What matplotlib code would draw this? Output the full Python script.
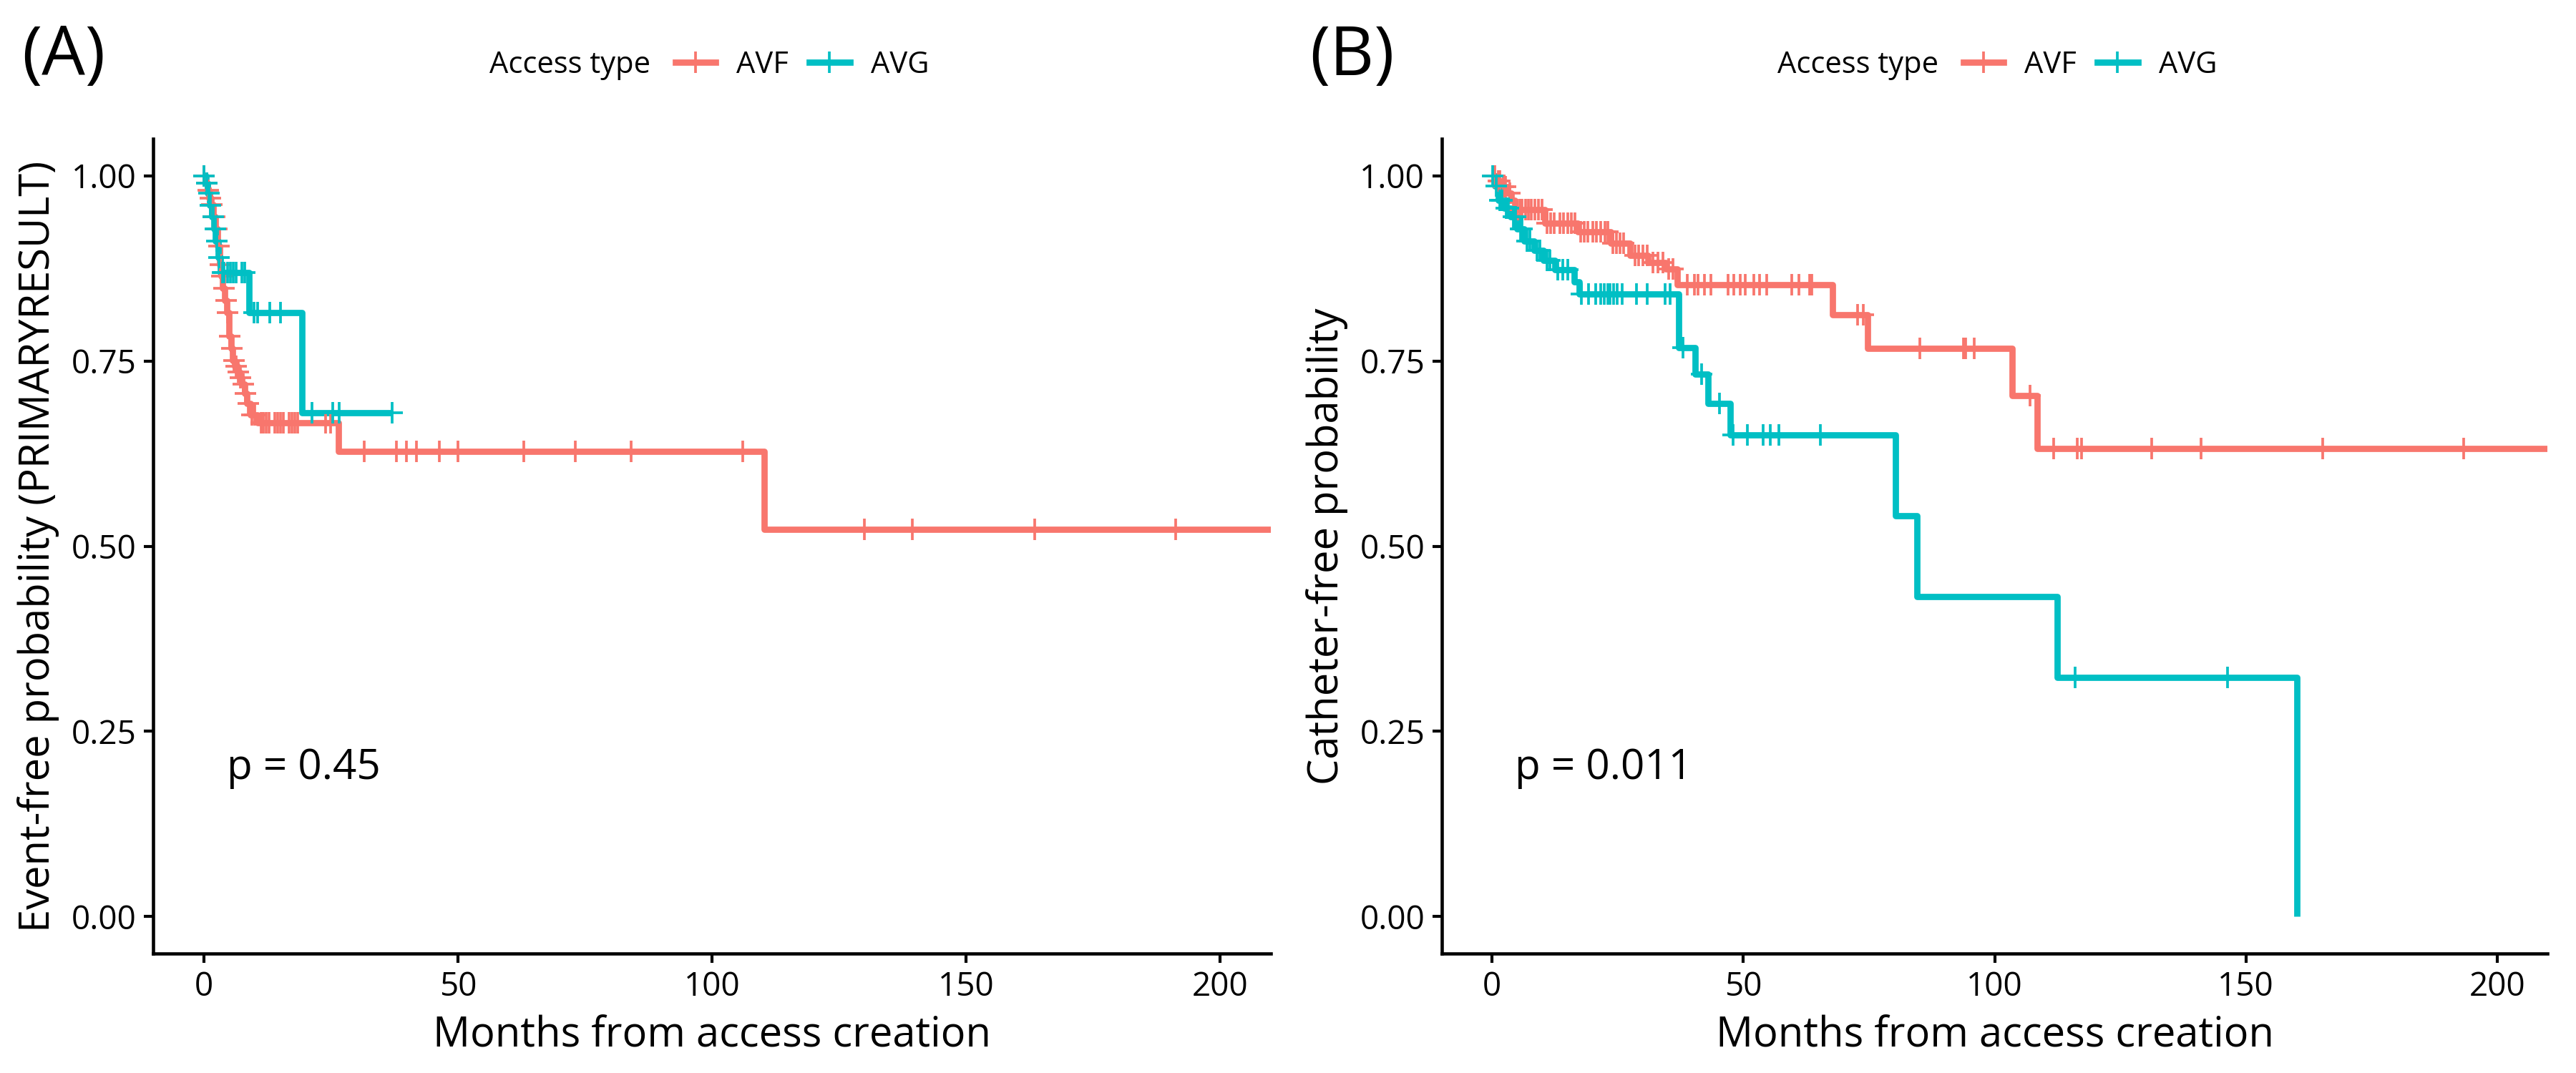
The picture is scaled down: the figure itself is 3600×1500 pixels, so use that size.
import numpy as np
import matplotlib
matplotlib.use("Agg")
import matplotlib.pyplot as plt
from matplotlib.lines import Line2D

plt.rcParams['font.family'] = ['Open Sans', 'DejaVu Sans']

RED = '#F8766D'
TEAL = '#00BFC4'

# ---------------- Panel A data (event-free) ----------------
a_avf_times = [0, 0.3, 0.7, 1.0, 1.4, 1.8, 2.3, 2.7, 3.05, 3.4, 3.7, 4.1, 4.5, 4.9, 5.3, 5.6,
               6.1, 6.6, 7.0, 7.5, 8.0, 8.45, 9.2, 10.6, 26.5, 110.3]
a_avf_surv = [1.0, 0.99, 0.98, 0.97, 0.961, 0.945, 0.928, 0.905, 0.880, 0.865, 0.848, 0.832,
              0.815, 0.783, 0.767, 0.751, 0.743, 0.735, 0.727, 0.719, 0.706, 0.693, 0.677,
              0.667, 0.628, 0.523]
a_avf_end = 215
a_avf_cens = [0.05, 0.5, 0.8, 1.2, 1.5, 1.9, 2.1, 2.5, 2.9, 3.2, 3.5, 3.9, 4.3, 4.7, 5.1, 5.5,
              5.9, 6.3, 6.8, 7.2, 7.7, 8.2, 8.8, 9.5, 10.0, 11.2, 11.7, 12.3, 12.8, 13.9,
              14.5, 15.0, 15.6, 16.7, 17.3, 17.9, 18.5, 24.0, 24.9, 31.5, 37.9, 39.8, 41.9,
              46.4, 50.0, 62.9, 73.1, 84.1, 106.0, 130.0, 139.5, 163.5, 191.3]

a_avg_times = [0, 0.4, 0.7, 1.1, 1.6, 2.0, 2.3, 2.8, 3.3, 8.9, 19.3]
a_avg_surv = [1.0, 0.99, 0.977, 0.96, 0.945, 0.928, 0.912, 0.890, 0.869, 0.815, 0.680]
a_avg_end = 37.0
a_avg_cens = [0.05, 0.5, 1.0, 1.3, 1.8, 2.2, 2.6, 3.0, 3.6, 4.0, 4.6, 5.2, 5.8, 6.3, 7.5, 8.0,
              9.9, 10.6, 13.0, 15.1, 21.2, 25.3, 26.6, 37.0]

# ---------------- Panel B data (catheter-free) ----------------
b_avf_times = [0, 1.0, 2.0, 3.1, 3.8, 4.5, 10.5, 17.0, 23.6, 27.5, 31.0, 34.5, 36.8, 67.8,
               74.7, 103.5, 108.5]
b_avf_surv = [1.0, 0.993, 0.985, 0.977, 0.967, 0.954, 0.936, 0.924, 0.909, 0.893, 0.883,
              0.874, 0.853, 0.812, 0.767, 0.703, 0.632]
b_avf_end = 215
b_avf_cens = [0.3, 0.6, 1.2, 1.6, 2.3, 2.7, 3.5, 5.0, 5.5, 6.0, 6.6, 7.2, 7.8, 8.5, 9.2, 9.9,
              11.0, 11.6, 12.3, 13.5, 14.2, 15.0, 15.8, 16.5, 17.6, 18.3, 19.0, 20.0, 20.8,
              21.6, 22.5, 23.0, 24.0, 24.7, 25.4, 26.2, 28.5, 29.2, 30.0, 30.8, 32.0, 33.0,
              34.0, 35.2, 36.0, 38.8, 40.3, 41.0, 42.2, 43.5, 46.9, 48.1, 49.4, 50.4, 52.1,
              53.2, 54.6, 59.6, 61.1, 63.2, 63.6, 72.8, 73.9, 85.1, 93.8, 94.3, 96.0, 107.1,
              111.7, 116.5, 117.3, 131.3, 141.1, 165.3, 193.4]

b_avg_times = [0, 0.5, 1.2, 2.4, 3.6, 5.0, 6.4, 8.3, 10.2, 12.5, 16.4, 17.3, 37.2, 40.4, 43.0,
               47.4, 80.3, 84.5, 112.4, 160.1]
b_avg_surv = [1.0, 0.986, 0.967, 0.956, 0.945, 0.928, 0.912, 0.899, 0.886, 0.873, 0.857,
              0.840, 0.768, 0.732, 0.693, 0.650, 0.541, 0.432, 0.323, 0.0]
b_avg_end = 160.1
b_avg_cens = [0.05, 0.8, 1.6, 2.0, 2.8, 3.2, 4.2, 4.6, 5.6, 6.0, 7.0, 7.5, 9.0, 9.5, 11.0,
              11.5, 13.0, 14.0, 15.0, 17.8, 19.2, 20.6, 21.6, 22.3, 23.0, 23.5, 24.2, 24.9,
              25.9, 28.7, 30.9, 34.4, 35.4, 38.0, 41.7, 45.3, 48.0, 50.8, 53.9, 55.3, 57.1,
              65.3, 116.0, 146.3]

group_labels = ['AVF', 'AVG']
legend_title = 'Access type'
x_ticks = [0, 50, 100, 150, 200]
y_ticks = [0.0, 0.25, 0.5, 0.75, 1.0]

LW = 2.1
MS = 7.0
MEW = 0.9


def draw_curve(ax, times, surv, end, cens, color):
    t = np.asarray(times, float)
    s = np.asarray(surv, float)
    tt = np.append(t, end)
    ss = np.append(s, s[-1])
    ax.step(tt, ss, where='post', color=color, lw=LW, solid_joinstyle='round',
            solid_capstyle='butt', zorder=3)
    c = np.asarray(cens, float)
    idx = np.searchsorted(t, c, side='right') - 1
    ax.plot(c, s[idx], linestyle='none', marker='+', ms=MS, mew=MEW, color=color, zorder=4)


def style_axes(ax, ylabel):
    ax.set_xlim(-10, 210)
    ax.set_ylim(-0.05, 1.05)
    ax.set_xticks(x_ticks)
    ax.set_yticks(y_ticks)
    ax.set_yticklabels([f'{v:.2f}' for v in y_ticks])
    for sp in ['top', 'right']:
        ax.spines[sp].set_visible(False)
    for sp in ['left', 'bottom']:
        ax.spines[sp].set_linewidth(1.1)
        ax.spines[sp].set_color('black')
    ax.tick_params(axis='both', direction='out', length=3.2, width=1.0, color='black',
                   labelsize=11, pad=2.5, labelcolor='black')
    ax.set_xlabel('Months from access creation', fontsize=13.9, labelpad=4)
    ax.set_ylabel(ylabel, fontsize=13.9, labelpad=4)


fig = plt.figure(figsize=(12, 5), dpi=300)
W, H = 3600.0, 1500.0
axA = fig.add_axes([214 / W, 1 - 1333 / H, (1776 - 214) / W, (1333 - 194) / H])
axB = fig.add_axes([2015 / W, 1 - 1333 / H, (3560 - 2015) / W, (1333 - 194) / H])

draw_curve(axA, a_avf_times, a_avf_surv, a_avf_end, a_avf_cens, RED)
draw_curve(axA, a_avg_times, a_avg_surv, a_avg_end, a_avg_cens, TEAL)
style_axes(axA, 'Event-free probability (PRIMARYRESULT)')
axA.text(4.5, 0.2, 'p = 0.45', fontsize=14, ha='left', va='center')

draw_curve(axB, b_avf_times, b_avf_surv, b_avf_end, b_avf_cens, RED)
draw_curve(axB, b_avg_times, b_avg_surv, b_avg_end, b_avg_cens, TEAL)
style_axes(axB, 'Catheter-free probability')
axB.text(4.5, 0.2, 'p = 0.011', fontsize=14, ha='left', va='center')

# panel tags
fig.text(30 / W, 1 - 80 / H, '(A)', fontsize=23, ha='left', va='center')
fig.text(1830 / W, 1 - 80 / H, '(B)', fontsize=23, ha='left', va='center')

# legends
handles = [Line2D([0], [0], color=c, lw=LW, marker='+', ms=MS, mew=MEW)
           for c in (RED, TEAL)]
for x_title, x_leg in [(684, 944), (2484, 2744)]:
    fig.text(x_title / W, 1 - 91 / H, legend_title, fontsize=10, ha='left', va='center')
    fig.legend(handles, group_labels, loc='center left',
               bbox_to_anchor=(x_leg / W, 1 - 91 / H), ncol=2, frameon=False,
               fontsize=10, handlelength=1.35, handletextpad=0.7, columnspacing=0.7,
               borderpad=0, borderaxespad=0)

fig.savefig('out.png', dpi=300, facecolor='white')
